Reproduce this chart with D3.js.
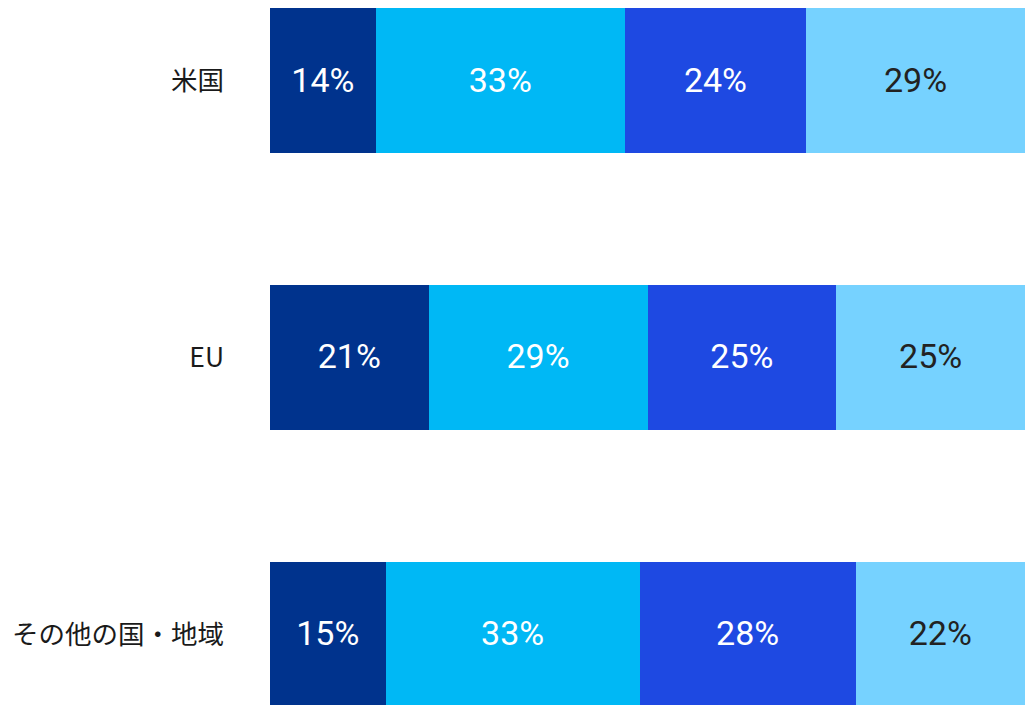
<!DOCTYPE html>
<html>
<head>
<meta charset="utf-8">
<script src="https://cdn.jsdelivr.net/npm/d3@7"></script>
<style>
  html, body { margin: 0; padding: 0; background: #fff; }
  svg { display: block; }
</style>
</head>
<body>
<svg id="chart" width="1025" height="705"></svg>
<script>
// Share by region, four segments per row
const regions = ["米国", "EU", "その他の国・地域"];
const segments = ["s1", "s2", "s3", "s4"];
const valuesS1 = [14, 21, 15];
const valuesS2 = [33, 29, 33];
const valuesS3 = [24, 25, 28];
const valuesS4 = [29, 25, 22];
const segmentColors = ["#00338D", "#00B8F5", "#1E49E2", "#76D2FF"];
const labelColors = ["#ffffff", "#ffffff", "#ffffff", "#222222"];

const rows = regions.map((r, i) => ({
  region: r,
  s1: valuesS1[i], s2: valuesS2[i], s3: valuesS3[i], s4: valuesS4[i]
}));

const svg = d3.select("#chart");
const width = 1025;
const left = 270;

// last band runs slightly past the bottom edge
const y = d3.scaleBand()
  .domain(regions)
  .range([8, 707])
  .paddingInner(0.4745)
  .paddingOuter(0);

const x = d3.scaleLinear().domain([0, 1]).range([left, width]);

const stack = d3.stack().keys(segments).offset(d3.stackOffsetExpand);
const series = stack(rows);

const color = d3.scaleOrdinal().domain(segments).range(segmentColors);
const textColor = d3.scaleOrdinal().domain(segments).range(labelColors);

const groups = svg.append("g").selectAll("g")
  .data(series)
  .join("g")
  .attr("fill", d => color(d.key));

groups.selectAll("rect")
  .data(d => d.map(v => ({ key: d.key, v })))
  .join("rect")
  .attr("x", d => x(d.v[0]))
  .attr("width", d => x(d.v[1]) - x(d.v[0]))
  .attr("y", d => y(d.v.data.region))
  .attr("height", y.bandwidth())
  .attr("shape-rendering", "crispEdges");

groups.selectAll("text")
  .data(d => d.map(v => ({ key: d.key, v })))
  .join("text")
  .attr("x", d => (x(d.v[0]) + x(d.v[1])) / 2)
  .attr("y", d => y(d.v.data.region) + y.bandwidth() / 2 - 1)
  .attr("dy", "0.35em")
  .attr("text-anchor", "middle")
  .attr("fill", d => textColor(d.key))
  .style("font-family", "Roboto, 'Noto Sans', sans-serif")
  .style("font-size", "34px")
  .text(d => d.v.data[d.key] + "%");

// Region labels on the left
const yAxis = svg.append("g")
  .attr("transform", `translate(${left - 46},0)`)
  .call(d3.axisLeft(y).tickSize(0).tickPadding(0));
yAxis.select(".domain").remove();
yAxis.selectAll("text")
  .attr("fill", "#1a1a1a")
  .attr("dy", "0.35em")
  .style("font-family", "'Noto Sans CJK JP', 'Noto Sans', sans-serif")
  .style("font-weight", "400")
  .style("font-size", "26.5px");
</script>
</body>
</html>
